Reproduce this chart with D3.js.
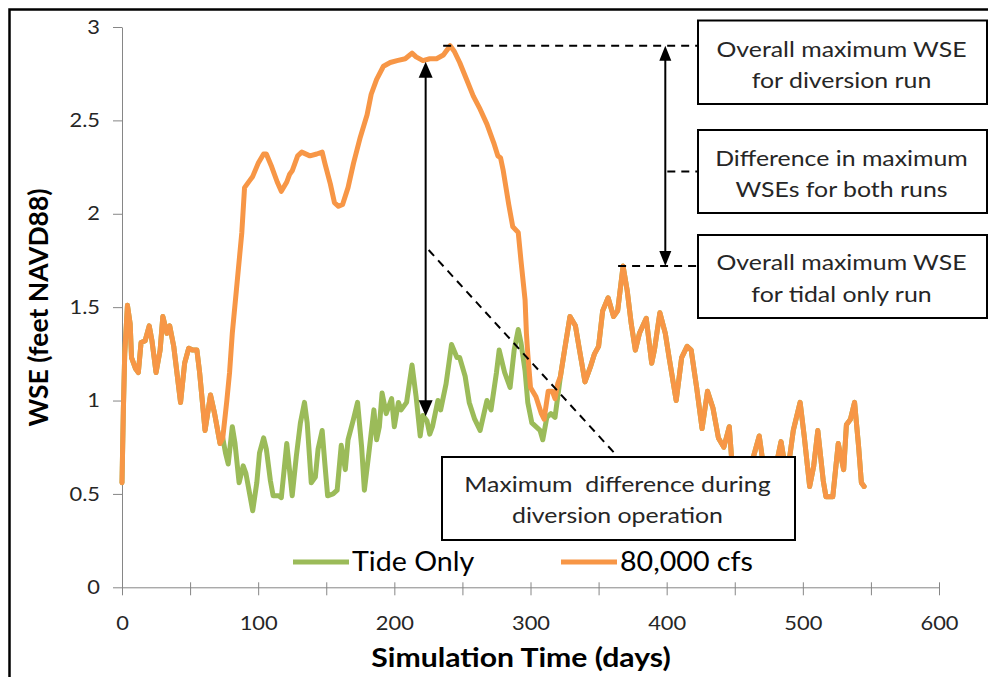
<!DOCTYPE html>
<html>
<head>
<meta charset="utf-8">
<script src="https://cdn.jsdelivr.net/npm/d3@7"></script>
<style>
  html, body { margin: 0; padding: 0; background: #fff; }
  svg { display: block; font-family: Lato, "Open Sans", sans-serif; }
</style>
</head>
<body>
<svg id="chart" width="988" height="677"></svg>
<script>
// ---- Water surface elevation (ft NAVD88) by simulation day ----
// Both runs share the same record before the diversion opens and after it closes.
const commonStartDays = [0, 1, 2, 4, 6, 7, 10, 12, 14, 17, 20, 22, 25, 28, 30, 33, 35, 38, 43, 46, 49, 52, 55, 57, 61, 65, 68, 72];
const commonStartWse  = [0.56, 0.95, 1.25, 1.51, 1.41, 1.23, 1.17, 1.15, 1.31, 1.32, 1.40, 1.32, 1.15, 1.27, 1.45, 1.36, 1.40, 1.29, 0.99, 1.20, 1.28, 1.27, 1.27, 1.15, 0.84, 1.03, 0.93, 0.77];

// Tide-only run while the diversion is operating
const tideMidDays = [74, 76, 78, 81, 83, 86, 89, 91, 94, 96, 99, 101, 104, 106, 109, 111, 115, 117, 121, 123, 125, 128, 131, 134, 136, 139, 142, 144, 147, 149, 151, 155, 158, 161, 164, 166, 170, 173, 176, 178, 181, 185, 187, 189, 191, 194, 198, 200, 203, 205, 209, 213, 216, 219, 221, 224, 226, 228, 232, 234, 238, 242, 246, 248, 252, 255, 259, 263, 268, 271, 275, 277, 281, 285, 288, 291, 293, 296, 298, 301, 304, 307, 309, 312, 315, 318, 320, 322];
const tideMidWse  = [0.80, 0.72, 0.66, 0.86, 0.77, 0.56, 0.65, 0.61, 0.49, 0.41, 0.56, 0.72, 0.80, 0.74, 0.57, 0.49, 0.49, 0.48, 0.77, 0.63, 0.49, 0.70, 0.88, 0.99, 0.88, 0.56, 0.59, 0.74, 0.84, 0.66, 0.49, 0.50, 0.52, 0.76, 0.63, 0.79, 0.90, 0.99, 0.75, 0.52, 0.70, 0.95, 0.79, 0.86, 1.04, 0.93, 1.01, 0.86, 0.99, 0.95, 0.99, 1.19, 1.02, 0.81, 0.92, 0.89, 0.82, 0.86, 1.00, 0.95, 1.09, 1.30, 1.23, 1.23, 1.13, 0.99, 0.90, 0.84, 1.00, 0.95, 1.15, 1.27, 1.15, 1.07, 1.27, 1.38, 1.31, 1.16, 0.99, 0.88, 0.86, 0.84, 0.79, 0.91, 0.93, 0.91, 1.02, 1.13];

// 80,000 cfs diversion run while the diversion is operating
const flowMidDays = [74, 77, 79, 81, 84, 88, 90, 94, 96, 100, 104, 106, 110, 114, 117, 121, 123, 125, 129, 132, 138, 143, 147, 149, 153, 156, 159, 162, 166, 170, 175, 180, 183, 187, 192, 197, 202, 208, 213, 216, 221, 226, 231, 236, 241, 244, 248, 253, 258, 263, 268, 273, 276, 278, 280, 282, 284, 287, 291, 293, 296, 297, 298, 300, 304, 308, 310, 313, 316, 318, 320, 322];
const flowMidWse  = [0.80, 1.00, 1.15, 1.36, 1.59, 1.90, 2.14, 2.18, 2.20, 2.27, 2.32, 2.32, 2.25, 2.17, 2.12, 2.17, 2.21, 2.23, 2.31, 2.33, 2.31, 2.32, 2.33, 2.27, 2.16, 2.06, 2.04, 2.05, 2.14, 2.27, 2.41, 2.53, 2.64, 2.72, 2.79, 2.81, 2.82, 2.83, 2.86, 2.84, 2.82, 2.83, 2.83, 2.85, 2.90, 2.87, 2.81, 2.72, 2.63, 2.56, 2.48, 2.38, 2.31, 2.30, 2.23, 2.14, 2.05, 1.93, 1.90, 1.75, 1.54, 1.36, 1.25, 1.07, 1.02, 0.93, 0.90, 1.05, 1.05, 1.01, 1.09, 1.13];

const commonEndDays = [325, 329, 333, 336, 340, 344, 347, 350, 353, 357, 361, 364, 368, 371, 374, 377, 380, 385, 389, 391, 395, 399, 402, 407, 411, 415, 418, 422, 426, 430, 434, 438, 442, 446, 448, 451, 455, 459, 463, 468, 472, 476, 480, 484, 488, 490, 493, 498, 501, 505, 508, 511, 515, 517, 522, 526, 530, 532, 535, 538, 541, 543, 545];
const commonEndWse  = [1.27, 1.45, 1.40, 1.27, 1.10, 1.18, 1.25, 1.29, 1.48, 1.55, 1.45, 1.48, 1.72, 1.59, 1.41, 1.27, 1.36, 1.44, 1.20, 1.27, 1.47, 1.36, 1.22, 1.00, 1.23, 1.29, 1.27, 1.07, 0.85, 1.05, 0.96, 0.80, 0.75, 0.86, 0.66, 0.58, 0.62, 0.55, 0.68, 0.81, 0.60, 0.55, 0.64, 0.78, 0.60, 0.68, 0.84, 0.99, 0.81, 0.54, 0.65, 0.84, 0.57, 0.485, 0.485, 0.77, 0.63, 0.87, 0.90, 0.99, 0.75, 0.56, 0.54];

const xTickValues = [0, 50, 100, 150, 200, 250, 300, 350, 400, 450, 500, 550, 600];
const xTickLabels = ["0", "", "100", "", "200", "", "300", "", "400", "", "500", "", "600"];
const yTickValues = [0, 0.5, 1, 1.5, 2, 2.5, 3];
const yTickLabels = ["0", "0.5", "1", "1.5", "2", "2.5", "3"];

const seriesNames = ["Tide Only", "80,000 cfs"];
const seriesColors = ["#9bbb59", "#f79646"];
const gapDay = 223;   // day marked as the largest difference during diversion

const zip = (ds, vs) => ds.map((d, i) => ({ day: d, wse: vs[i] }));
const tideOnly = [...zip(commonStartDays, commonStartWse), ...zip(tideMidDays, tideMidWse), ...zip(commonEndDays, commonEndWse)];
const diversion = [...zip(commonStartDays, commonStartWse), ...zip(flowMidDays, flowMidWse), ...zip(commonEndDays, commonEndWse)];

const svg = d3.select("#chart");
const x = d3.scaleLinear().domain([0, 600]).range([122, 939]);
const y = d3.scaleLinear().domain([0, 3]).range([587.3, 27]);

// widen glyphs horizontally (the face is set wide, like a stretched Calibri)
function widen(sel, k) {
  sel.each(function () {
    const len = this.getComputedTextLength();
    d3.select(this).attr("textLength", len * k).attr("lengthAdjust", "spacingAndGlyphs");
  });
  return sel;
}

// outer frame
svg.append("rect").attr("x", 9.5).attr("y", 9.5).attr("width", 1200).attr("height", 900)
  .attr("fill", "none").attr("stroke", "#000").attr("stroke-width", 2.5);

// y axis
const yAxis = svg.append("g").attr("transform", `translate(${x(0)},0)`)
  .call(d3.axisLeft(y).tickValues(yTickValues).tickSizeInner(9).tickSizeOuter(0).tickPadding(13)
    .tickFormat((d, i) => yTickLabels[i]));
yAxis.select(".domain").attr("stroke", "#868686");
yAxis.selectAll(".tick line").attr("stroke", "#868686");
widen(yAxis.selectAll(".tick text").attr("font-size", 19).attr("fill", "#262626").attr("font-family", "Lato, sans-serif"), 1.15);

// x axis with crossing tick marks
const xAxis = svg.append("g").attr("transform", `translate(0,${y(0)})`)
  .call(d3.axisBottom(x).tickValues(xTickValues).tickSizeInner(0).tickSizeOuter(0)
    .tickFormat((d, i) => xTickLabels[i]));
xAxis.select(".domain").attr("stroke", "#868686");
xAxis.selectAll(".tick line").attr("stroke", "#868686").attr("y1", -5).attr("y2", 8);
widen(xAxis.selectAll(".tick text").attr("font-size", 19).attr("fill", "#262626").attr("font-family", "Lato, sans-serif")
  .attr("y", 43).attr("dy", 0), 1.15);

// axis titles
widen(svg.append("text").attr("x", 521).attr("y", 667).attr("text-anchor", "middle")
  .attr("font-size", 26).attr("font-weight", "bold").text("Simulation Time (days)"), 1.16);
svg.append("text").attr("transform", "translate(48,307.5) rotate(-90)").attr("text-anchor", "middle")
  .attr("font-size", 26.5).attr("font-weight", "bold").text("WSE (feet NAVD88)");

// series lines
const line = d3.line().x(d => x(d.day)).y(d => y(d.wse));
[tideOnly, diversion].forEach((s, i) => {
  svg.append("path").datum(s).attr("d", line).attr("fill", "none")
    .attr("stroke", seriesColors[i]).attr("stroke-width", 5)
    .attr("stroke-linejoin", "round").attr("stroke-linecap", "round");
});

// legend
const legendX = [293, 561];
seriesNames.forEach((name, i) => {
  svg.append("line").attr("x1", legendX[i]).attr("x2", legendX[i] + 56).attr("y1", 562).attr("y2", 562)
    .attr("stroke", seriesColors[i]).attr("stroke-width", 5);
  widen(svg.append("text").attr("x", legendX[i] + 59).attr("y", 571).attr("font-size", 27).attr("fill", "#000").text(name), 1.06);
});

// ---- annotations ----
const interp = (series, day) => {
  const i = d3.bisector(d => d.day).left(series, day);
  const a = series[Math.max(0, i - 1)], b = series[Math.min(series.length - 1, i)];
  if (b.day === a.day) return a.wse;
  return a.wse + (b.wse - a.wse) * (day - a.day) / (b.day - a.day);
};
const flowPeak = diversion.reduce((m, d) => d.wse > m.wse ? d : m);
const tidePeak = tideOnly.reduce((m, d) => d.wse > m.wse ? d : m);

const dash = "8,6";
const boxLeft = 698;

function arrowHead(cx, tipY, dir, w, len) {
  // dir: -1 points up, +1 points down
  return `M${cx},${tipY} L${cx - w / 2},${tipY - dir * len} L${cx + w / 2},${tipY - dir * len} Z`;
}

// leader lines to the right-hand boxes
svg.append("line").attr("x1", x(flowPeak.day) - 7).attr("x2", boxLeft)
  .attr("y1", y(flowPeak.wse)).attr("y2", y(flowPeak.wse))
  .attr("stroke", "#000").attr("stroke-width", 2).attr("stroke-dasharray", dash);
svg.append("line").attr("x1", x(tidePeak.day) - 5).attr("x2", boxLeft)
  .attr("y1", y(tidePeak.wse)).attr("y2", y(tidePeak.wse))
  .attr("stroke", "#000").attr("stroke-width", 2).attr("stroke-dasharray", dash);

// double arrow spanning the two maxima
const spanX = x(399);
const spanTop = y(flowPeak.wse), spanBot = y(tidePeak.wse);
svg.append("line").attr("x1", spanX).attr("x2", spanX).attr("y1", spanTop + 12).attr("y2", spanBot - 12)
  .attr("stroke", "#000").attr("stroke-width", 2);
svg.append("path").attr("d", arrowHead(spanX, spanTop, -1, 12, 15)).attr("fill", "#000");
svg.append("path").attr("d", arrowHead(spanX, spanBot, 1, 12, 15)).attr("fill", "#000");
svg.append("line").attr("x1", spanX + 2).attr("x2", boxLeft).attr("y1", 171.5).attr("y2", 171.5)
  .attr("stroke", "#000").attr("stroke-width", 2).attr("stroke-dasharray", dash);

// arrow between the two runs at the largest difference
const gapX = x(gapDay);
const gapTop = y(interp(diversion, gapDay)) + 2;
const gapBot = y(interp(tideOnly, gapDay)) - 3;
svg.append("line").attr("x1", gapX).attr("x2", gapX).attr("y1", gapTop + 12).attr("y2", gapBot - 12)
  .attr("stroke", "#000").attr("stroke-width", 2);
svg.append("path").attr("d", arrowHead(gapX, gapTop, -1, 14, 16)).attr("fill", "#000");
svg.append("path").attr("d", arrowHead(gapX, gapBot, 1, 14, 16)).attr("fill", "#000");

// diagonal leader to the lower box
svg.append("line").attr("x1", gapX + 3).attr("y1", 250).attr("x2", 618).attr("y2", 457)
  .attr("stroke", "#000").attr("stroke-width", 2).attr("stroke-dasharray", dash);

// text boxes
const boxes = [
  { x: 698, y: 20.5, w: 289, h: 83.5, lines: ["Overall maximum WSE", "for diversion run"], base: [57, 88] },
  { x: 698, y: 130, w: 289, h: 83, lines: ["Difference in maximum", "WSEs for both runs"], base: [166, 197] },
  { x: 698, y: 235, w: 289, h: 83, lines: ["Overall maximum WSE", "for tidal only run"], base: [270, 302] },
  { x: 442, y: 457, w: 353, h: 83, lines: ["Maximum  difference during", "diversion operation"], base: [492, 523] }
];
boxes.forEach(b => {
  svg.append("rect").attr("x", b.x).attr("y", b.y).attr("width", b.w).attr("height", b.h)
    .attr("fill", "#fff").attr("stroke", "#000").attr("stroke-width", 2);
  b.lines.forEach((t, i) => {
    widen(svg.append("text").attr("x", b.x + b.w / 2 - 1).attr("y", b.base[i]).attr("text-anchor", "middle")
      .attr("font-size", 22).attr("fill", "#262626").style("white-space", "pre").text(t), 1.13);
  });
});
</script>
</body>
</html>
